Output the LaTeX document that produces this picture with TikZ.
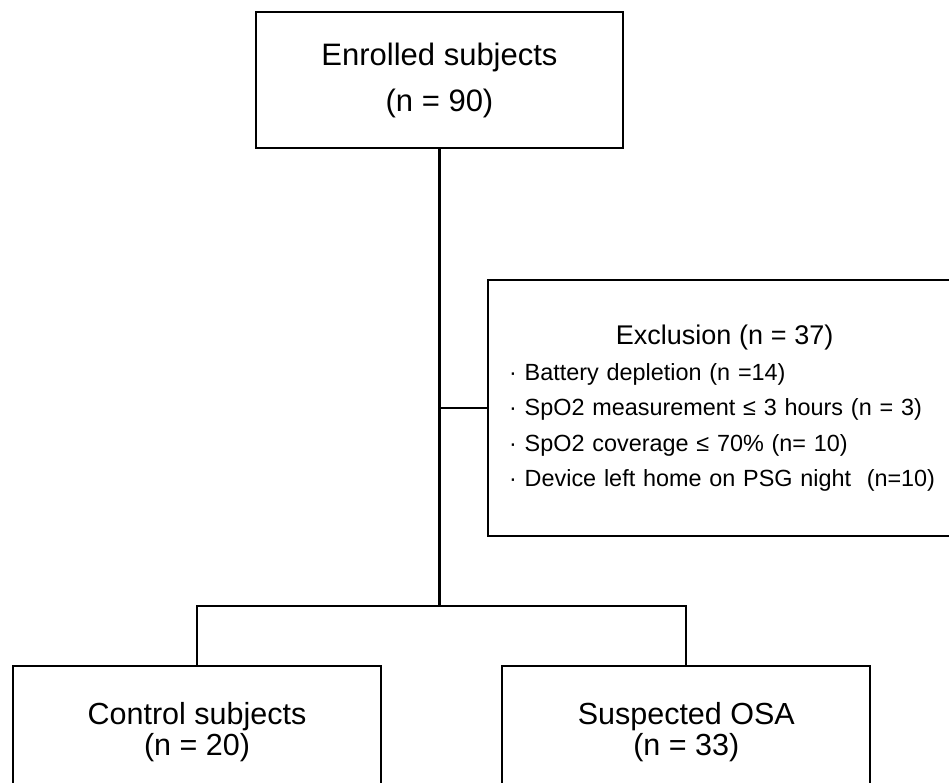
\documentclass[tikz,border=0pt]{standalone}
\usepackage{fontspec}
\setmainfont{Liberation Sans}
\usetikzlibrary{positioning}

\begin{document}
\begin{tikzpicture}[
  x=1pt, y=-1pt,
  box/.style={draw, line width=2.3pt, inner sep=0pt, align=center},
  group/.style={box, minimum width=368pt, minimum height=132pt, font=\fontsize{30.5}{31}\selectfont},
  link/.style={line width=2.2pt}
]
\useasboundingbox (0,0) rectangle (949,783);
\clip (0,0) rectangle (949,783);

\node[box, minimum width=367pt, minimum height=136pt, font=\fontsize{31}{46}\selectfont] (enrolled) at (439.5,80) {Enrolled subjects\\(n = 90)};

\node[box, anchor=north west, minimum width=487pt, minimum height=256pt, text width=445pt, inner xsep=21pt, align=left, font=\fontsize{23.4}{35.5}\selectfont] (excl) at (487,279)
  {\makebox[431pt]{\fontsize{27}{35}\selectfont Exclusion (n = 37)}\\
   · Battery depletion (n =14)\\
   · SpO2 measurement ≤ 3 hours (n = 3)\\
   · SpO2 coverage ≤ 70\% (n= 10)\\
   · Device left home on PSG night\ \ (n=10)};

\node[group, anchor=north] (control) at (197,665) {Control subjects\\(n = 20)};
\node[group, right=119pt of control] (osa) {Suspected OSA\\(n = 33)};

\coordinate (fork) at (enrolled.south |- 0,606);
\draw[link] (enrolled) -- (fork);
\draw[link] (excl.west) -- (excl.west -| enrolled.south);
\draw[link] (control.north) |- (fork) -| (osa.north);
\end{tikzpicture}
\end{document}
